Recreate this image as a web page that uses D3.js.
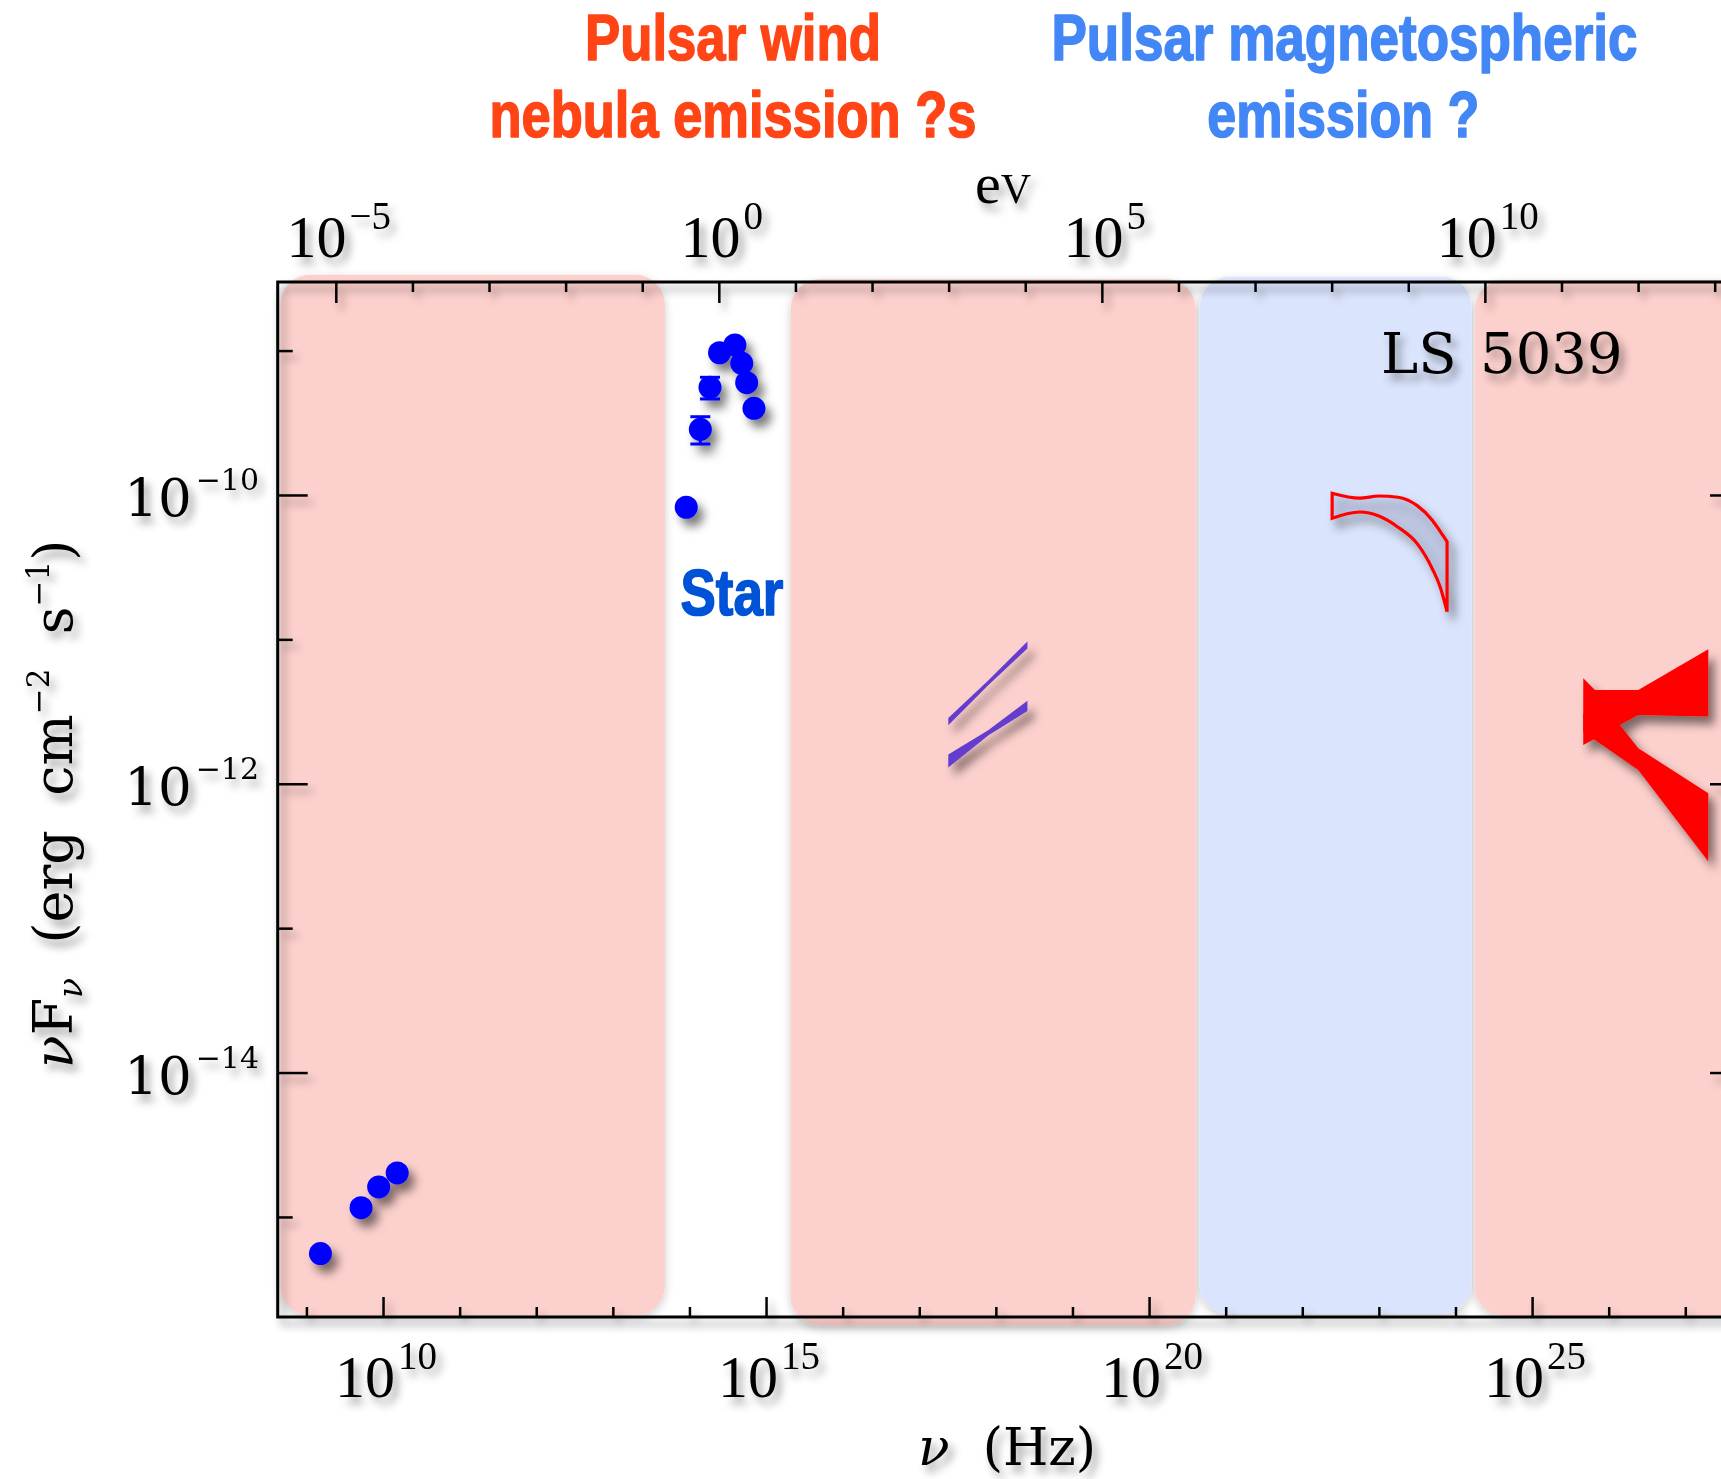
<!DOCTYPE html>
<html><head><meta charset="utf-8">
<script src="https://cdn.jsdelivr.net/npm/d3@7"></script>
<style>
html,body{margin:0;padding:0;background:#fff;overflow:hidden}
text{white-space:pre}
</style></head><body>
<svg id="chart" width="1721" height="1479"></svg>
<script>
// ---------------- DATA (log10 values) ----------------
const xDomainLogNu = [8.625, 27.714];       // log10 nu (Hz)
const yDomainLogF  = [-15.693, -8.525];     // log10 nuFnu
const logHzPerEV   = 14.3835;               // log10(2.418e14)

const bottomMinorTicks = [9,10,11,12,13,14,15,16,17,18,19,20,21,22,23,24,25,26,27];
const bottomMajorTicks = [10,15,20,25];
const topMinorTicks    = [-5,-4,-3,-2,-1,0,1,2,3,4,5,6,7,8,9,10,11,12,13];
const topMajorTicks    = [-5,0,5,10];
const leftMinorTicks   = [-15,-14,-13,-12,-11,-10,-9];
const leftMajorTicks   = [-14,-12,-10];

const bottomTickLabels = ["10","15","20","25"];
const topTickLabels    = ["\u22125","0","5","10"];
const leftTickLabels   = ["\u221214","\u221212","\u221210"];

// shaded regions
const bandX0   = [8.66, 15.32, 20.66, 24.25];
const bandX1   = [13.68, 20.61, 24.21, 28.6];
const bandTop  = [-8.474, -8.504, -8.488, -8.511];
const bandBot  = [-15.684, -15.753, -15.672, -15.686];
const bandKind = ["wind", "wind", "magneto", "wind"];

// radio points
const radioLogNu = [9.183, 9.713, 9.943, 10.185];
const radioLogF  = [-15.254, -14.936, -14.792, -14.695];

// star (optical / IR) points
const starLogNu  = [13.958, 14.142, 14.268, 14.393, 14.593, 14.683, 14.747, 14.842];
const starLogF   = [-10.085, -9.545, -9.254, -9.015, -8.961, -9.088, -9.222, -9.400];
const starErrLo  = [null, -9.647, -9.335, null, null, null, null, null];
const starErrHi  = [null, -9.458, -9.185, null, null, null, null, null];

// X-ray butterflies (1-10 keV)
const xrayLogNu      = [17.379, 17.9, 18.412];
const xrayHighUpper  = [-11.544, -11.284, -11.014];
const xrayHighLower  = [-11.595, -11.318, -11.064];
const xrayLowUpper   = [-11.798, -11.630, -11.425];
const xrayLowLower   = [-11.888, -11.666, -11.496];

// Fermi (GeV) band
const fermiLogNu  = [22.39, 22.75, 23.0, 23.25, 23.5, 23.7, 23.8, 23.89];
const fermiUpper  = [-9.988, -10.022, -10.007, -10.016, -10.074, -10.176, -10.252, -10.323];
const fermiLower  = [-10.161, -10.118, -10.146, -10.223, -10.337, -10.514, -10.637, -10.808];

// TeV butterflies
const tevALogNu = [25.668, 25.821, 26.386, 27.30];
const tevAUpper = [-11.270, -11.350, -11.350, -11.069];
const tevALower = [-11.731, -11.688, -11.524, -11.535];
const tevBLogNu = [25.668, 25.821, 26.147, 26.386, 27.30];
const tevBUpper = [-11.512, -11.489, -11.593, -11.754, -12.066];
const tevBLower = [-11.641, -11.697, -11.817, -11.904, -12.539];

// ---------------- DRAWING ----------------
const W = 1721, H = 1479;
const svg = d3.select("#chart");
const defs = svg.append("defs");
function shadow(id, dx, dy, sd, op) {
  const f = defs.append("filter").attr("id", id).attr("filterUnits", "userSpaceOnUse")
    .attr("x", -50).attr("y", -50).attr("width", W + 100).attr("height", H + 100);
  f.append("feDropShadow").attr("dx", dx).attr("dy", dy).attr("stdDeviation", sd)
    .attr("flood-color", "#000").attr("flood-opacity", op);
}
shadow("sh", 5, 7, 4.5, 0.38);
shadow("shMark", 6, 8, 5, 0.5);
shadow("shBand", 0, 3, 4, 0.2);

const pL = 277.7, pR = 1740, pT = 282, pB = 1317;
const x = d3.scaleLinear().domain(xDomainLogNu).range([pL, pR]);
const xe = d3.scaleLinear().domain(xDomainLogNu.map(v => v - logHzPerEV)).range([pL, pR]);
const y = d3.scaleLinear().domain(yDomainLogF).range([pB, pT]);

const bands = bandX0.map((b, i) => ({x0: b, x1: bandX1[i], t: bandTop[i], b: bandBot[i], kind: bandKind[i]}));
const bandFill = k => k === "wind" ? "#fcd0cc" : "#dae4fc";

svg.append("g").attr("filter", "url(#shBand)")
  .selectAll("rect").data(bands).join("rect")
    .attr("x", d => x(d.x0)).attr("width", d => x(d.x1) - x(d.x0))
    .attr("y", d => y(d.t)).attr("height", d => y(d.b) - y(d.t))
    .attr("rx", 30).attr("ry", 30)
    .attr("fill", d => bandFill(d.kind));

// axes
const gAx = svg.append("g").attr("filter", "url(#sh)");
function tickAxis(axisFn, scale, vals, size, tr) {
  const g = gAx.append("g").attr("transform", tr)
    .call(axisFn(scale).tickValues(vals).tickSize(size).tickFormat(""));
  g.select(".domain").remove();
  g.selectAll("line").attr("stroke", "#000").attr("stroke-width", 2.5);
}
tickAxis(d3.axisBottom, x, bottomMinorTicks.filter(v => !bottomMajorTicks.includes(v)), -10, `translate(0,${pB})`);
tickAxis(d3.axisBottom, x, bottomMajorTicks, -20, `translate(0,${pB})`);
tickAxis(d3.axisTop, xe, topMinorTicks.filter(v => !topMajorTicks.includes(v)), -10, `translate(0,${pT})`);
tickAxis(d3.axisTop, xe, topMajorTicks, -21, `translate(0,${pT})`);
tickAxis(d3.axisLeft, y, leftMinorTicks.filter(v => !leftMajorTicks.includes(v)), -15, `translate(${pL},0)`);
tickAxis(d3.axisLeft, y, leftMajorTicks, -30, `translate(${pL},0)`);
tickAxis(d3.axisRight, y, leftMinorTicks.filter(v => !leftMajorTicks.includes(v)), -15, `translate(${pR},0)`);
tickAxis(d3.axisRight, y, leftMajorTicks, -30, `translate(${pR},0)`);
gAx.append("rect").attr("x", pL).attr("y", pT).attr("width", pR - pL).attr("height", pB - pT)
  .attr("fill", "none").attr("stroke", "#000").attr("stroke-width", 3);

// marks
const gM = svg.append("g").attr("filter", "url(#shMark)");
const area = d3.area().x(d => x(d.x)).y0(d => y(d.lo)).y1(d => y(d.hi));
const zip = (xs, hi, lo) => xs.map((v, i) => ({x: v, hi: hi[i], lo: lo[i]}));

gM.append("path").datum(zip(xrayLogNu, xrayHighUpper, xrayHighLower)).attr("d", area).attr("fill", "#643ccd");
gM.append("path").datum(zip(xrayLogNu, xrayLowUpper, xrayLowLower)).attr("d", area).attr("fill", "#643ccd");

gM.append("path").datum(zip(fermiLogNu, fermiUpper, fermiLower))
  .attr("d", area.curve(d3.curveMonotoneX))
  .attr("fill", "rgba(150,160,195,0.25)").attr("stroke", "#ff0000").attr("stroke-width", 3.2)
  .attr("stroke-linejoin", "miter");
area.curve(d3.curveLinear);

const gTev = gM.append("g");
gTev.append("path").datum(zip(tevBLogNu, tevBUpper, tevBLower)).attr("d", area).attr("fill", "#ff0000");
gTev.append("path").datum(zip(tevALogNu, tevAUpper, tevALower)).attr("d", area).attr("fill", "#ff0000");

const radio = radioLogNu.map((v, i) => ({x: v, y: radioLogF[i]}));
gM.selectAll("circle.radio").data(radio).join("circle").attr("class", "radio")
  .attr("cx", d => x(d.x)).attr("cy", d => y(d.y)).attr("r", 11.5).attr("fill", "#0000ff");

const star = starLogNu.map((v, i) => ({x: v, y: starLogF[i], lo: starErrLo[i], hi: starErrHi[i]}));
const eb = gM.selectAll("g.err").data(star.filter(d => d.lo !== null)).join("g").attr("class", "err")
  .attr("stroke", "#0000ff").attr("stroke-width", 3);
eb.append("line").attr("x1", d => x(d.x)).attr("x2", d => x(d.x)).attr("y1", d => y(d.lo)).attr("y2", d => y(d.hi));
eb.append("line").attr("x1", d => x(d.x) - 10).attr("x2", d => x(d.x) + 10).attr("y1", d => y(d.lo)).attr("y2", d => y(d.lo));
eb.append("line").attr("x1", d => x(d.x) - 10).attr("x2", d => x(d.x) + 10).attr("y1", d => y(d.hi)).attr("y2", d => y(d.hi));
gM.selectAll("circle.star").data(star).join("circle").attr("class", "star")
  .attr("cx", d => x(d.x)).attr("cy", d => y(d.y)).attr("r", 11.5).attr("fill", "#0000ff");

// ---------------- TEXT ----------------
const gT = svg.append("g").attr("filter", "url(#sh)").attr("fill", "#000");
const serifTick = "'Liberation Serif','Times New Roman',serif";
const serifBig = "'DejaVu Serif',serif";

// bottom tick labels
const bl = gT.selectAll("text.bl").data(bottomMajorTicks).join("text").attr("class", "bl")
  .attr("x", d => x(d) + 3).attr("y", 1397).attr("text-anchor", "middle")
  .style("font-family", serifTick).style("font-size", "60px");
bl.append("tspan").text("10");
bl.append("tspan").attr("dx", 3).attr("dy", -28).style("font-size", "39px").text((d, i) => bottomTickLabels[i]);

// top tick labels (eV)
const tl = gT.selectAll("text.tl").data(topMajorTicks).join("text").attr("class", "tl")
  .attr("x", d => xe(d) + 3).attr("y", 257).attr("text-anchor", "middle")
  .style("font-family", serifTick).style("font-size", "60px");
tl.append("tspan").text("10");
tl.append("tspan").attr("dx", 3).attr("dy", -28).style("font-size", "39px").text((d, i) => topTickLabels[i]);

// eV
const ev = gT.append("text").attr("x", 975).attr("y", 203).style("font-family", serifTick).style("font-size", "58px");
ev.append("tspan").text("e");
ev.append("tspan").style("font-size", "42px").text("V");

// left tick labels
const ll = gT.selectAll("text.ll").data(leftMajorTicks).join("text").attr("class", "ll")
  .attr("x", 259).attr("y", d => y(d) + 21).attr("text-anchor", "end")
  .style("font-family", serifBig).style("font-size", "53px");
ll.append("tspan").text("10");
ll.append("tspan").attr("dx", 4).attr("dy", -26).style("font-size", "30px").text((d, i) => leftTickLabels[i]);

// x title
const xt = gT.append("text").attr("x", 1007).attr("y", 1465).attr("text-anchor", "middle")
  .style("font-family", serifBig).style("font-size", "52px");
xt.append("tspan").style("font-style", "italic").text("\u03bd");
xt.append("tspan").text("  (Hz)");

// y title
const yt = gT.append("text").attr("transform", "translate(72,804) rotate(-90)").attr("text-anchor", "middle")
  .style("font-family", serifBig).style("font-size", "54px");
yt.append("tspan").style("font-style", "italic").text("\u03bd");
yt.append("tspan").text("F");
yt.append("tspan").attr("dy", 10).style("font-size", "33px").style("font-style", "italic").text("\u03bd");
yt.append("tspan").attr("dy", -10).text("  (erg  cm");
yt.append("tspan").attr("dy", -23).style("font-size", "31px").text("\u22122");
yt.append("tspan").attr("dy", 23).text("  s");
yt.append("tspan").attr("dy", -23).style("font-size", "31px").text("\u22121");
yt.append("tspan").attr("dy", 23).text(")");

// LS 5039
const ls = gT.append("text").attr("x", 1381).attr("y", 373).style("font-family", serifBig).style("font-size", "56px");
ls.append("tspan").text("LS");
ls.append("tspan").attr("x", 1480).text("5039");

// headline annotations (condensed bold, scaled horizontally to the measured widths)
const titleFont = "'Liberation Sans Narrow','Liberation Sans',Arial,sans-serif";
const heads = [
  {t: "Pulsar wind", x: 585, y: 60, w: 296, c: "#ff4516"},
  {t: "nebula emission ?s", x: 489.5, y: 136.7, w: 487, c: "#ff4516"},
  {t: "Pulsar magnetospheric", x: 1051.5, y: 60, w: 586, c: "#4287f5"},
  {t: "emission ?", x: 1207.3, y: 136.7, w: 272, c: "#4287f5"},
  {t: "Star", x: 680.5, y: 615, w: 103, c: "#0052d6"}
];
const ht = svg.append("g").selectAll("text").data(heads).join("text")
  .attr("x", 0).attr("y", 0)
  .style("font-family", titleFont).style("font-weight", "bold").style("font-size", "64px")
  .attr("fill", d => d.c).attr("stroke", d => d.c).attr("stroke-width", 1.6).attr("stroke-linejoin", "round")
  .text(d => d.t);
ht.each(function(d) {
  const nat = this.getComputedTextLength();
  d3.select(this).attr("transform", `translate(${d.x},${d.y}) scale(${d.w / nat},1)`);
});
</script>
</body></html>
